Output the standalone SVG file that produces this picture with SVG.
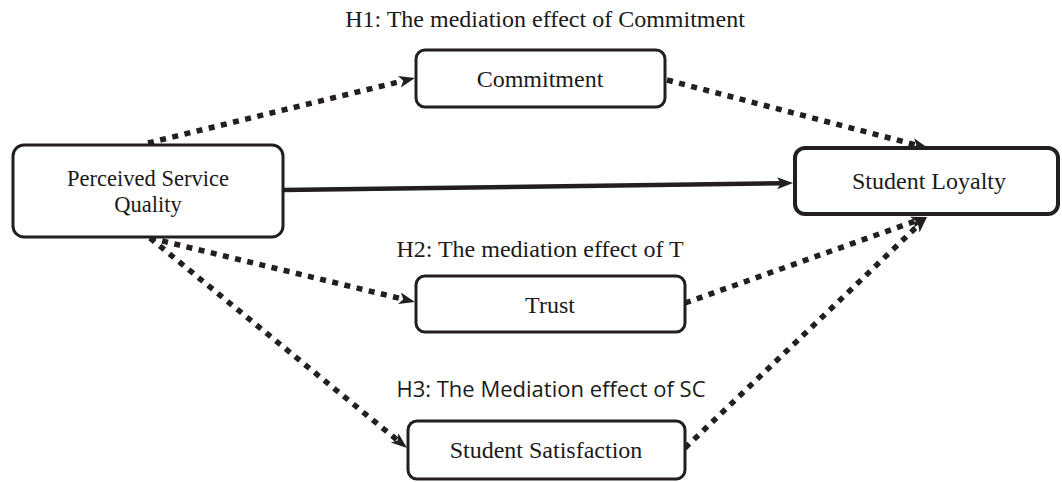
<svg xmlns="http://www.w3.org/2000/svg" width="1062" height="482" viewBox="0 0 1062 482">
  <style>
    .node { fill: #ffffff; stroke: #231f20; stroke-width: 3; }
    .thick { stroke-width: 4; }
    .t { font-family: "Liberation Serif", "Times New Roman", serif; font-size: 24px; fill: #1a1a1a; text-anchor: middle; }
    .s { font-family: "Open Sans", "Liberation Sans", sans-serif; font-size: 22px; fill: #1a1a1a; text-anchor: middle; }
    .dot { fill: none; stroke: #231f20; stroke-width: 5.5; stroke-dasharray: 6 6.5; marker-end: url(#arr); }
    .solid { fill: none; stroke: #231f20; stroke-width: 4.5; marker-end: url(#arr); }
  </style>
  <defs>
    <marker id="arr" markerUnits="userSpaceOnUse" markerWidth="17" markerHeight="13" refX="4" refY="6" orient="auto" viewBox="0 0 17 13">
      <path d="M0,0 L16,6 L0,12 L4,6 Z" fill="#231f20"/>
    </marker>
  </defs>
  <rect width="1062" height="482" fill="#ffffff"/>

  <g id="labels">
    <text class="t" x="545" y="27">H1: The mediation effect of Commitment</text>
    <text class="t" x="540" y="257">H2: The mediation effect of T</text>
    <text class="s" x="551" y="397">H3: The Mediation effect of SC</text>
  </g>

  <g id="connectors">
    <line class="dot" x1="148" y1="143" x2="403.3" y2="80.8"/>
    <line class="dot" x1="667" y1="80" x2="916.4" y2="145"/>
    <line class="solid" x1="283" y1="190" x2="781" y2="183.2"/>
    <line class="dot" x1="150" y1="238" x2="403.3" y2="299.2"/>
    <line class="dot" x1="150" y1="238" x2="397.7" y2="440.4"/>
    <line class="dot" x1="685" y1="303" x2="915.7" y2="221"/>
    <line class="dot" x1="685" y1="448" x2="918.3" y2="225.3"/>
  </g>

  <g id="psq">
    <rect class="node" x="13" y="145" width="270" height="92" rx="11"/>
    <text class="t" x="148" y="186" style="font-size:22.5px">Perceived Service</text>
    <text class="t" x="148" y="212" style="font-size:22.5px">Quality</text>
  </g>
  <g id="commitment">
    <rect class="node" x="416" y="50" width="249" height="57" rx="9"/>
    <text class="t" x="540" y="87">Commitment</text>
  </g>
  <g id="loyalty">
    <rect class="node thick" x="795" y="148" width="263" height="66" rx="10"/>
    <text class="t" x="929" y="189">Student Loyalty</text>
  </g>
  <g id="trust">
    <rect class="node" x="416" y="276" width="269" height="56" rx="9"/>
    <text class="t" x="550" y="313">Trust</text>
  </g>
  <g id="satisfaction">
    <rect class="node" x="408" y="421" width="277" height="58" rx="9"/>
    <text class="t" x="546" y="458">Student Satisfaction</text>
  </g>
</svg>
